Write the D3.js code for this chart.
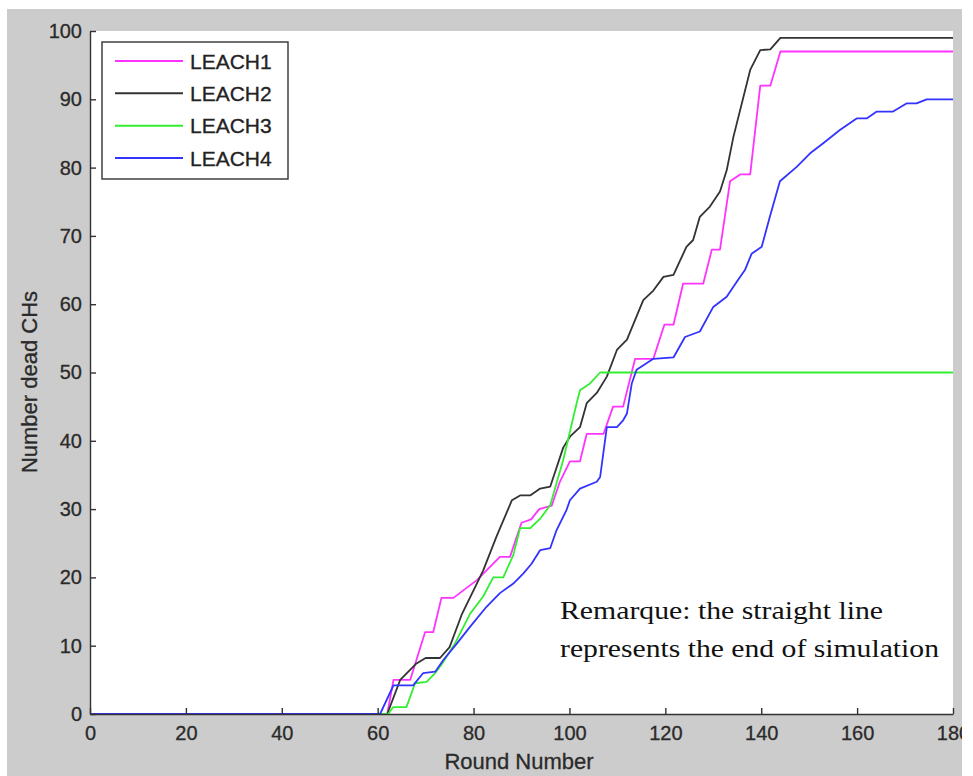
<!DOCTYPE html>
<html>
<head>
<meta charset="utf-8">
<script src="https://cdn.jsdelivr.net/npm/d3@7.9.0/dist/d3.min.js"></script>
<style>
  html, body { margin: 0; padding: 0; background: #fff; }
  svg { display: block; }
  .tick text { font-family: Arial, "Liberation Sans", sans-serif; font-size: 20px; fill: #2a2a2a; stroke: #2a2a2a; stroke-width: 0.3px; }
</style>
</head>
<body>
<svg id="chart" width="973" height="776"></svg>
<script>
// series names and colours
const seriesNames = ['LEACH1', 'LEACH2', 'LEACH3', 'LEACH4'];
const seriesColors = ['#ff33ff', '#333333', '#33ee33', '#3333ff'];

// LEACH1 (magenta)
const leach1Rounds = [0, 62, 63.3, 66.8, 69.9, 71.6, 73.3, 75.8, 80.7, 84.1, 85.5, 87.6, 90, 92, 93.7, 96.3, 98, 100.1, 102.2, 103.6, 107.1, 109.1, 111.2, 113.7, 117.5, 119.8, 121.7, 123.7, 127.9, 129.7, 131.4, 133.5, 135.6, 137.7, 139.8, 141.9, 144, 180];
const leach1Dead   = [0, 0, 5, 5, 12, 12, 17, 17, 19.6, 22, 23, 23, 28, 28.5, 30, 30.5, 34, 37, 37, 41, 41, 45, 45, 52, 52, 57, 57, 63, 63, 68, 68, 78, 79, 79, 92, 92, 97, 97];

// LEACH2 (black)
const leach2Rounds = [0, 62, 64.7, 68.1, 70, 73, 75, 77.5, 82, 84.8, 88, 89.7, 91.8, 93.9, 96, 98.7, 100.1, 102.2, 103.6, 105.7, 107.8, 109.9, 112, 115.4, 117.5, 119.6, 121.7, 124.4, 125.8, 127.2, 129.3, 131.4, 132.8, 134.2, 137.7, 139.8, 141.9, 144, 180];
const leach2Dead   = [0, 0, 5, 7.4, 8.2, 8.2, 9.8, 14.5, 21, 26, 31.3, 32, 32, 33, 33.3, 39, 40.6, 42, 45.5, 47, 49.4, 53.3, 54.8, 60.6, 62, 64, 64.3, 68.4, 69.4, 72.8, 74.3, 76.5, 79.6, 84.5, 94.3, 97.2, 97.3, 99, 99];

// LEACH3 (green)
const leach3Rounds = [0, 62.2, 63.2, 66, 67.8, 70.2, 72, 73.3, 76.1, 79.3, 82, 84.1, 86.2, 88.3, 89.7, 91.8, 93.9, 96, 98.7, 101.5, 102.2, 104.3, 106.4, 180];
const leach3Dead   = [0, 0, 1, 1, 4.5, 4.7, 6, 7.2, 10.3, 14.7, 17.2, 20, 20, 23.3, 27.2, 27.2, 28.6, 30.6, 37.2, 45.5, 47.4, 48.4, 50, 50];

// LEACH4 (blue)
const leach4Rounds = [0, 60.5, 63.3, 67.4, 69.5, 72, 73.7, 76.5, 79.3, 82.7, 85.5, 88.3, 90.4, 92.1, 93.9, 96, 97.3, 99.4, 100.1, 102.2, 105.7, 106.4, 107.8, 109.9, 111.2, 112, 113, 114, 117.5, 121.7, 124.1, 127.2, 130, 132.8, 134.9, 136.6, 138, 140.1, 141.8, 143.9, 147.4, 150.2, 153, 156.4, 159.9, 162, 164.1, 167.5, 170.3, 172.4, 174.5, 180];
const leach4Dead   = [0, 0, 4.2, 4.2, 6, 6.2, 7.9, 10.3, 12.8, 15.7, 17.7, 19.1, 20.6, 22, 24, 24.3, 26.9, 29.9, 31.3, 33, 34, 34.7, 42, 42, 43, 44, 48.4, 50.4, 52, 52.2, 55.2, 56, 59.6, 61.1, 63.3, 65, 67.4, 68.4, 72.8, 78, 80.1, 82.1, 83.6, 85.5, 87.2, 87.2, 88.2, 88.2, 89.4, 89.4, 90, 90];

// tick labels
const xTicks = [0, 20, 40, 60, 80, 100, 120, 140, 160, 180];
const yTicks = [0, 10, 20, 30, 40, 50, 60, 70, 80, 90, 100];

const allRounds = [leach1Rounds, leach2Rounds, leach3Rounds, leach4Rounds];
const allDead = [leach1Dead, leach2Dead, leach3Dead, leach4Dead];

const svg = d3.select('#chart');
const sans = 'Arial, "Liberation Sans", sans-serif';

// the screenshot was cropped just right of the plot, so clip there too
svg.append('defs').append('clipPath').attr('id', 'figclip')
  .append('rect').attr('x', 0).attr('y', 0).attr('width', 962).attr('height', 776);

const fig = svg.append('g').attr('clip-path', 'url(#figclip)');

// grey figure background (MATLAB style)
fig.append('rect')
  .attr('x', 7).attr('y', 9)
  .attr('width', 958).attr('height', 767)
  .attr('fill', '#cccccc');

const plotLeft = 90, plotRight = 953, plotTop = 31, plotBottom = 714;

// white axes area
fig.append('rect')
  .attr('x', plotLeft).attr('y', plotTop)
  .attr('width', plotRight - plotLeft).attr('height', plotBottom - plotTop)
  .attr('fill', '#fff');

const x = d3.scaleLinear().domain([0, 180]).range([plotLeft, plotRight]);
const y = d3.scaleLinear().domain([0, 100]).range([plotBottom, plotTop]);

const line = d3.line()
  .x(d => x(d[0]))
  .y(d => y(d[1]));

// draw the four series
seriesNames.forEach((name, i) => {
  const pts = allRounds[i].map((r, j) => [r, allDead[i][j]]);
  fig.append('path')
    .datum(pts)
    .attr('fill', 'none')
    .attr('stroke', seriesColors[i])
    .attr('stroke-width', 1.8)
    .attr('stroke-linejoin', 'round')
    .attr('d', line);
});

// axes, ticks pointing inward
const xAxis = fig.append('g')
  .attr('transform', `translate(0,${plotBottom})`)
  .call(d3.axisBottom(x).tickValues(xTicks).tickSizeInner(-6).tickSizeOuter(0).tickPadding(12));
const yAxis = fig.append('g')
  .attr('transform', `translate(${plotLeft},0)`)
  .call(d3.axisLeft(y).tickValues(yTicks).tickSizeInner(-6).tickSizeOuter(0).tickPadding(8));

[xAxis, yAxis].forEach(g => {
  g.select('.domain').attr('stroke', '#333').attr('stroke-width', 1.4);
  g.selectAll('.tick line').attr('stroke', '#333').attr('stroke-width', 1.4);
});

// axis titles
fig.append('text')
  .attr('x', 519).attr('y', 769)
  .attr('text-anchor', 'middle')
  .attr('font-family', sans)
  .attr('font-size', 22)
  .attr('fill', '#2a2a2a')
  .attr('stroke', '#2a2a2a').attr('stroke-width', 0.3)
  .text('Round Number');

fig.append('text')
  .attr('transform', 'translate(37,382) rotate(-90)')
  .attr('text-anchor', 'middle')
  .attr('font-family', sans)
  .attr('font-size', 22)
  .attr('fill', '#2a2a2a')
  .attr('stroke', '#2a2a2a').attr('stroke-width', 0.3)
  .text('Number dead CHs');

// legend
const legend = fig.append('g');
legend.append('rect')
  .attr('x', 102).attr('y', 42)
  .attr('width', 186).attr('height', 137)
  .attr('fill', '#fff')
  .attr('stroke', '#333')
  .attr('stroke-width', 1.4);

const legendY = d3.scalePoint().domain(seriesNames).range([61, 158]);
seriesNames.forEach((name, i) => {
  legend.append('line')
    .attr('x1', 115).attr('x2', 183)
    .attr('y1', legendY(name)).attr('y2', legendY(name))
    .attr('stroke', seriesColors[i])
    .attr('stroke-width', 2);
  legend.append('text')
    .attr('x', 190).attr('y', legendY(name))
    .attr('dy', '0.36em')
    .attr('font-family', sans)
    .attr('font-size', 21)
    .attr('fill', '#222')
    .attr('stroke', '#222').attr('stroke-width', 0.3)
    .text(name);
});

// note in the lower right
const note = fig.append('text')
  .attr('font-family', '"Liberation Serif", "Times New Roman", serif')
  .attr('font-size', 26)
  .attr('fill', '#111');
note.append('tspan').attr('x', 560).attr('y', 619)
  .attr('textLength', 323).attr('lengthAdjust', 'spacingAndGlyphs')
  .text('Remarque: the straight line');
note.append('tspan').attr('x', 560).attr('y', 657)
  .attr('textLength', 379).attr('lengthAdjust', 'spacingAndGlyphs')
  .text('represents the end of simulation');
</script>
</body>
</html>
